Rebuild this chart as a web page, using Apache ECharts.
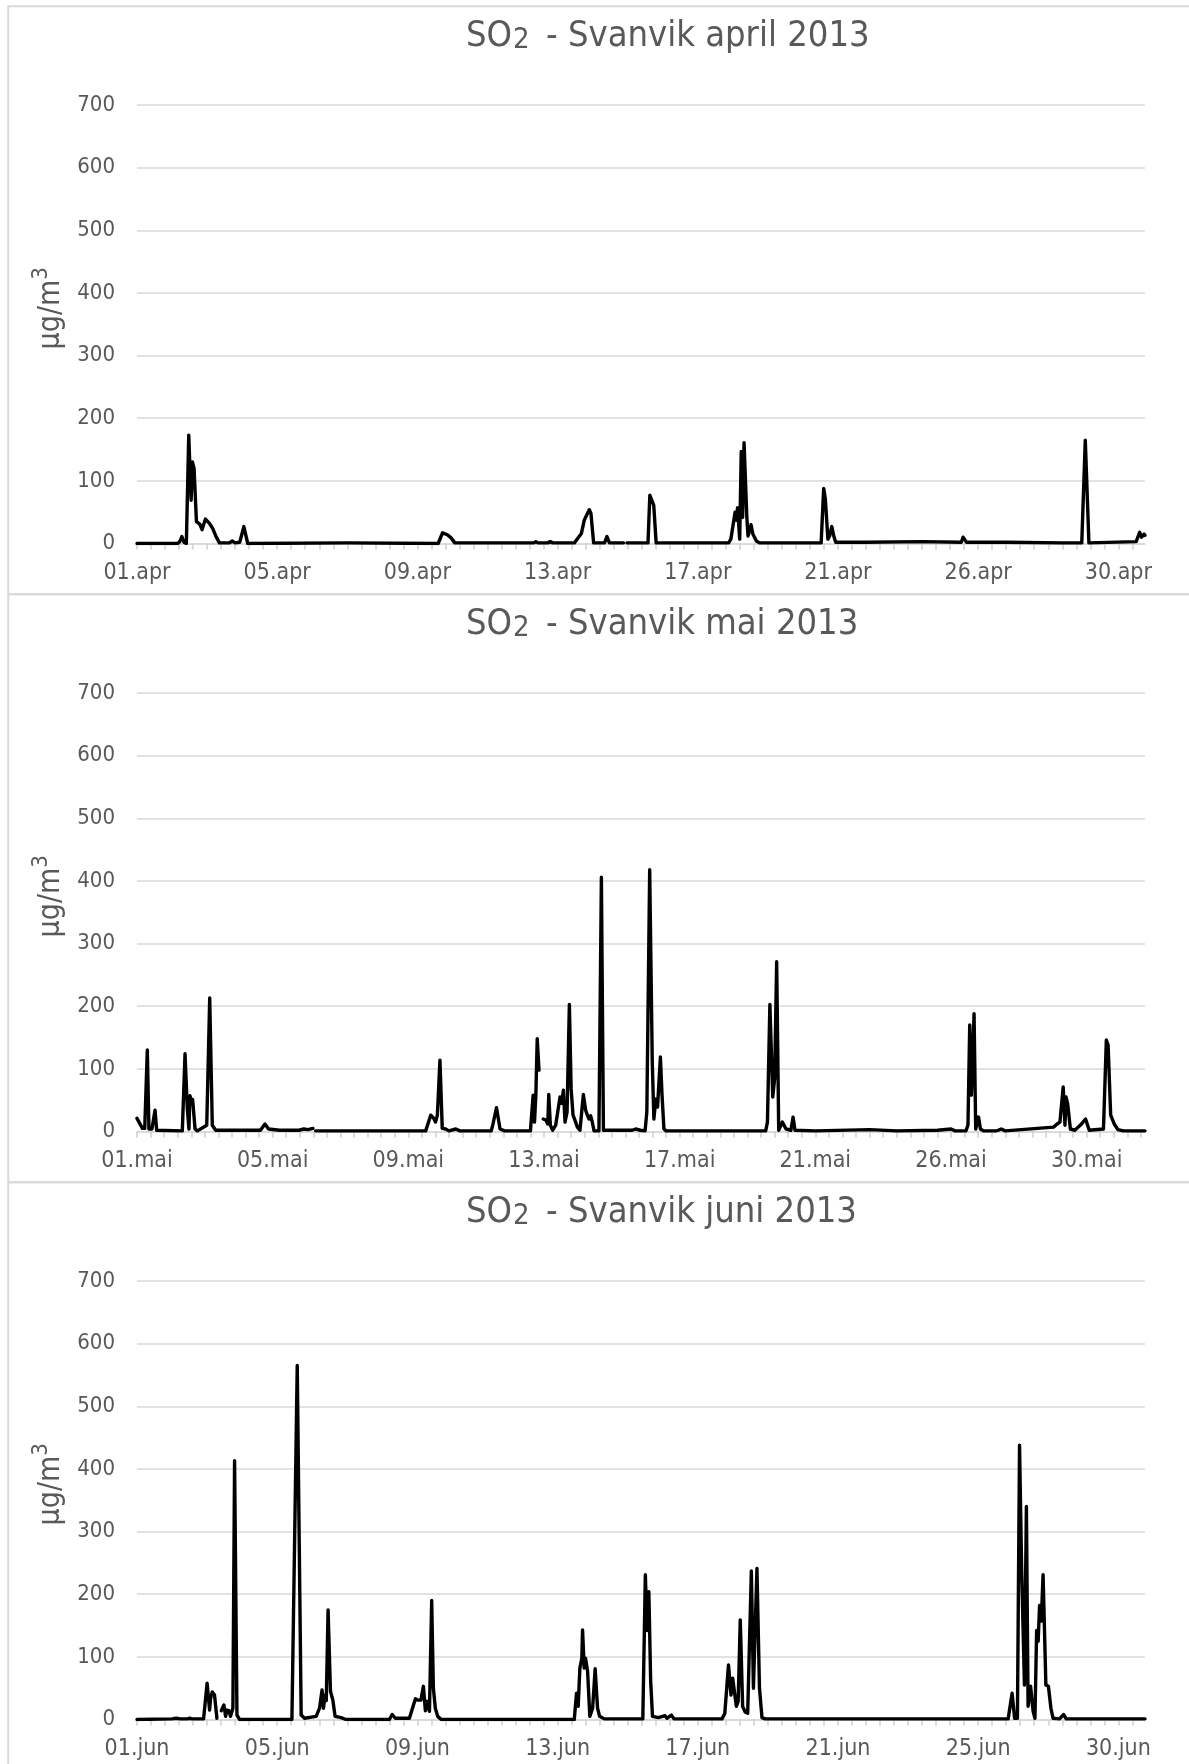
<!DOCTYPE html>
<html>
<head>
<meta charset="utf-8">
<script src="https://cdn.jsdelivr.net/npm/echarts@6/dist/echarts.min.js"></script>
<style>
html,body{margin:0;padding:0;background:#fff;overflow:hidden}
#c{width:1189px;height:1764px}
</style>
</head>
<body>
<div id="c"></div>
<script>
// ---- tick labels (one label every 100 hourly points) ----
const aprLabels = ['01.apr','05.apr','09.apr','13.apr','17.apr','21.apr','26.apr','30.apr'];
const maiLabels = ['01.mai','05.mai','09.mai','13.mai','17.mai','21.mai','26.mai','30.mai'];
const junLabels = ['01.jun','05.jun','09.jun','13.jun','17.jun','21.jun','25.jun','30.jun'];

// number of hourly points in each month
const aprHours = 720;
const maiHours = 744;
const junHours = 720;

// y axis ticks
const yMin = 0, yMax = 700, yStep = 100;

// ---- SO2 values, [hour index, µg/m3]; null = missing data (gap) ----
const aprData = [
 [0,0],[29,0],[30.5,3],[32,11],[33.5,2],[35.2,0],[36.9,173],[38.6,69],[39.5,130],[40.7,120],
 [42.4,35],[44.8,31],[46.4,22],[48.8,39],[51.7,32],[54,24],[56.4,11],[58.8,1],[66,1],[67.9,4],
 [70,1],[73.3,2],[76.2,27],[79,0],[150,1],[214.8,0],[217.9,17],[221.4,14],[224,9],[226.7,1],
 [283,1],[284.5,3],[286,1],[293,1],[294.8,3],[296.5,1],[312,1],[314.3,8],[317,16],[319,37],
 [322.6,54],[323.8,48],[325.7,1],[333.5,1],[335.2,11],[337,1],[347,1],[348,null],[349.5,1],
 [364.5,1],[365.8,77],[367,70],[368.6,61],[370.3,1],[422,1],[423.6,7],[425,10],[426.6,50],
 [427.4,37],[428.4,57],[429.9,7],[431,147],[432,42],[433,161],[435,42],[435.8,12],[436.8,20],
 [438,30],[439.3,15],[441.8,4],[444,1],[488,1],[489.8,88],[491,71],[492.8,7],[494,12],[495.6,27],
 [497,12],[498.4,2],[520,2],[560,3],[588,2],[589.2,10],[591.7,2],[620,2],[660,1],[673.9,1],
 [676.4,165],[679,1],[712.7,3],[715.2,18],[716.5,10],[718.3,15],[719,13]
];

const maiData = [
 [0,21],[1.5,15],[4,5],[5.7,5],[7.6,130],[8.8,4],[11,4],[13.3,34],[14.5,2],[33.4,1],
 [35.4,124],[37.1,36],[38.3,4],[39,57],[40.3,47],[41,51],[42.8,4],[44.5,1],[51.4,10],[53.6,213],
 [55.5,10],[58,2],[91,2],[94.3,12],[97,4],[105,2],[119.4,2],[123,4],[126,3],[129.7,5],
 [130.5,null],[131.7,1],[212.8,1],[216.5,26],[219,20],[220,15],[221.4,26],[223.3,114],[225,5],
 [227.5,4],[230,1],[235,4],[238,1],[261,1],[262,8],[265,38],[267.6,4],[271,1],[290,1],[292,58],
 [293,15],[294,59],[295,148],[296.3,98],[297,null],[299.5,20],[301.5,18],[302.8,12],[303.5,59],
 [304.7,10],[306.4,2],[308.6,10],[311.8,55],[313,45],[314.3,66],[315.5,15],[317,31],[318.7,203],
 [320,68],[321.4,26],[322.8,18],[324.6,7],[326.5,2],[327.5,2],[329,59],[330.7,34],[332,26],
 [333.2,20],[334.4,25],[335.6,15],[336.9,1],[340.5,1],[342.3,406],[343.8,2],[365,2],[367.6,4],
 [371,2],[374.5,1],[375.8,31],[377.9,418],[379.8,111],[381,20],[382.4,52],[383.7,39],[385.8,119],
 [387,58],[388.4,4],[390,1],[463.4,1],[464.7,15],[466.5,203],[468.6,55],[470,84],[471.5,271],
 [473,2],[475.7,15],[478.4,4],[482,2],[483.6,23],[485,2],[500,1],[540,3],[560,1],[590,2],
 [600,4],[603,1],[611,1],[612.5,10],[613.8,170],[615,58],[617,188],[618.2,4],[620.3,23],
 [621.7,4],[624,1],[633.5,1],[634,null],[634.8,2],[637,4],[640,1],[675.6,7],[678.2,12],
 [680.3,15],[682.7,71],[684,10],[684.8,55],[686,44],[688,4],[691.3,2],[695.8,11],[699.2,20],
 [701.9,2],[712.4,4],[714.5,146],[715.8,138],[717.7,26],[720.3,12],[723,3],[727,1],[743,1]
];

const junData = [
 [0,0],[25,1],[28,2],[31,1],[36,1],[37.5,2],[39,1],[47.5,1],[50,58],[51.8,15],[52.5,34],
 [53.7,44],[55.3,39],[57,2],[57.5,null],[60.1,14],[62,23],[63.2,5],[64.1,15],[65.6,14],[66.7,5],
 [68.4,18],[69.6,413],[71.3,7],[73.2,0],[110.5,0],[114.3,565],[117.1,7],[119.5,2],[127.8,5],
 [130.2,18],[132,47],[133,18],[134.2,39],[135,30],[136.3,175],[138,45],[139.7,31],[141.3,5],
 [145.6,3],[149,0],[180,0],[182,8],[184.3,2],[194.3,2],[198.6,33],[200.2,31],[202.5,31],
 [204.3,53],[205.7,14],[206.9,29],[208.6,13],[210.2,190],[211.4,50],[212.8,18],[214.5,5],
 [217,0],[311.9,0],[313.5,42],[314.7,21],[315.9,82],[317.3,98],[317.8,143],[319,82],[319.9,98],
 [321.4,77],[323,5],[325,18],[326.8,81],[328.5,18],[330,5],[333.3,1],[360.8,1],[362.6,231],
 [363.9,142],[365.1,204],[366.4,61],[367.7,5],[372,3],[376.6,6],[378,2],[381.2,7],[383,1],
 [417.3,1],[419.3,10],[421.9,87],[423.7,39],[424.9,66],[426.2,63],[427.5,21],[428.8,29],
 [430.3,159],[432,21],[433.8,12],[435.6,10],[438.2,237],[439.7,50],[442.2,241],[444,50],
 [445.8,3],[448,1],[621.4,1],[624.2,42],[626,2],[628,2],[629.5,438],[631,242],[633,55],
 [634.4,340],[635.6,21],[637.4,53],[639.2,13],[640.5,2],[641.7,142],[642.8,125],[643.8,182],
 [645,157],[646.3,231],[648.3,55],[650.1,53],[651.9,18],[653.4,2],[658,1],[661,8],[662.8,1],[719,1]
];

const titles = ['april 2013', 'mai 2013', 'juni 2013'];

// ---- styling ----
const FONT = '"DejaVu Sans Condensed", "DejaVu Sans", sans-serif';
const TEXT = '#595959';
const GRIDC = '#d9d9d9';

const panels = [
  {labels: aprLabels, hours: aprHours, data: aprData, title: titles[0]},
  {labels: maiLabels, hours: maiHours, data: maiData, title: titles[1]},
  {labels: junLabels, hours: junHours, data: junData, title: titles[2]}
];

const PERIOD = 588;
const option = {
  animation: false,
  backgroundColor: '#fff',
  title: [], grid: [], xAxis: [], yAxis: [], series: [], graphic: []
};

panels.forEach((p, i) => {
  const off = PERIOD * i;
  const labelVals = p.labels.map((_, k) => k * 100);
  const tickVals = [];
  for (let t = 0; t < p.hours; t += 10) tickVals.push(t);

  option.title.push({
    left: 466, top: 11 + off, textAlign: 'left', padding: 0,
    text: '{n|SO}{s|2}{n| - Svanvik ' + p.title + '}',
    textStyle: {
      fontWeight: 'normal', fontFamily: FONT, color: TEXT,
      rich: {
        n: {fontFamily: FONT, fontWeight: 'normal', fontSize: 36, color: TEXT, lineHeight: 44, verticalAlign: 'bottom'},
        s: {fontFamily: FONT, fontWeight: 'normal', fontSize: 29, color: TEXT, lineHeight: 17, verticalAlign: 'bottom', padding: [0, 6, 0, 1]}
      }
    }
  });
  option.grid.push({left: 137, right: 44, top: 105 + off, height: 438.5});
  option.xAxis.push({
    gridIndex: i, type: 'value', min: 0, max: p.hours - 1, interval: 100,
    splitLine: {show: false},
    axisLine: {show: true, lineStyle: {color: GRIDC, width: 1.5}},
    axisTick: {show: true, length: 6, customValues: tickVals, lineStyle: {color: '#cfcfcf', width: 1.5}},
    axisLabel: {
      customValues: labelVals,
      formatter: v => p.labels[Math.round(v / 100)] || '',
      color: TEXT, fontFamily: FONT, fontSize: 23, margin: 18
    }
  });
  option.yAxis.push({
    gridIndex: i, type: 'value', min: yMin, max: yMax, interval: yStep,
    axisLine: {show: false}, axisTick: {show: false},
    axisLabel: {color: TEXT, fontFamily: FONT, fontSize: 22, margin: 22},
    splitLine: {lineStyle: {color: GRIDC, width: 1.5}},
    name: '{a|µg/m}{b|3}', nameLocation: 'middle', nameGap: 69, nameRotate: 90,
    nameTextStyle: {
      padding: [0, 0, 0, 32],
      rich: {
        a: {fontFamily: FONT, fontSize: 30, color: TEXT, lineHeight: 36, verticalAlign: 'bottom'},
        b: {fontFamily: FONT, fontSize: 22, color: TEXT, lineHeight: 22, verticalAlign: 'top'}
      }
    }
  });
  option.series.push({
    type: 'line', xAxisIndex: i, yAxisIndex: i, data: p.data,
    showSymbol: false, symbol: 'none', connectNulls: false, silent: true,
    lineStyle: {color: '#000', width: 3.4, join: 'round', cap: 'round'}
  });
  option.graphic.push({
    type: 'rect', silent: true,
    shape: {x: 8.3, y: 6.3 + off, width: 1400, height: PERIOD},
    style: {fill: 'none', stroke: GRIDC, lineWidth: 2}
  });
});

const chart = echarts.init(document.getElementById('c'), null, {renderer: 'canvas'});
chart.setOption(option);
</script>
</body>
</html>
